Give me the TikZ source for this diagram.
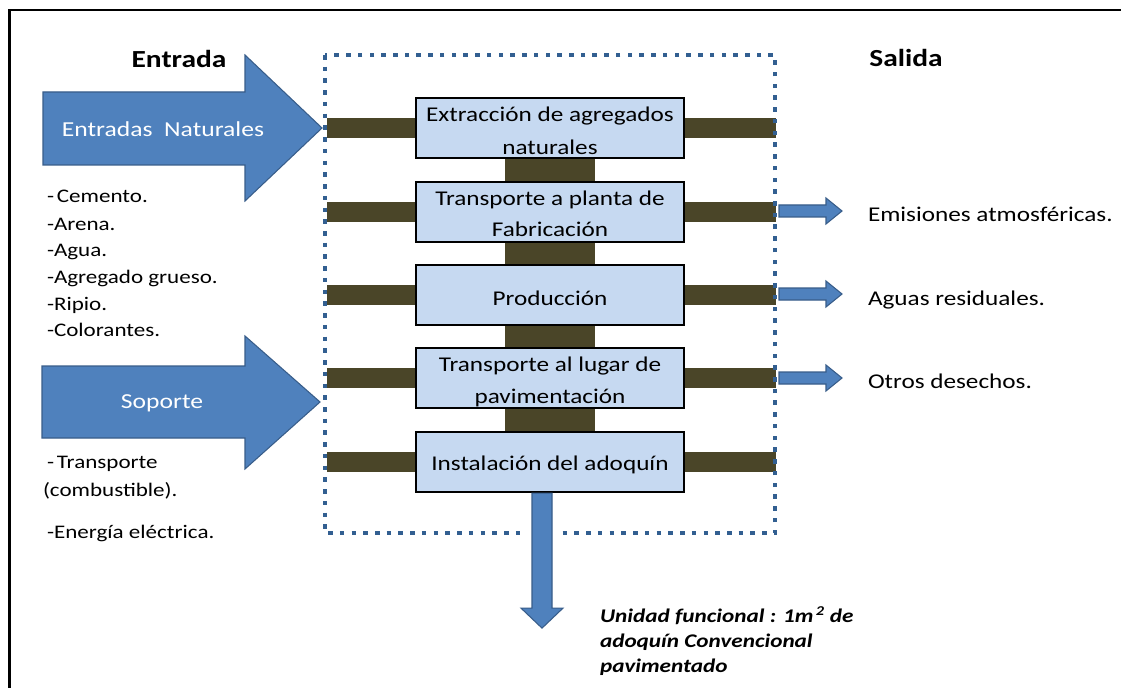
\documentclass[tikz,border=0pt]{standalone}
\usepackage{fontspec}
\setmainfont{Carlito}[FakeStretch=1.2]
\usetikzlibrary{calc}

\definecolor{arrowblue}{HTML}{4F81BD}
\definecolor{arrowedge}{HTML}{385D8A}
\definecolor{stagefill}{HTML}{C6D9F1}
\definecolor{barolive}{HTML}{4A4528}
\definecolor{dotblue}{HTML}{325F91}

\pgfdeclarelayer{paper}
\pgfdeclarelayer{bars}
\pgfsetlayers{paper,bars,main}

\begin{document}
\begin{tikzpicture}[x=0.75pt,y=-0.75pt,
  every node/.style={inner sep=0pt, outer sep=0pt},
  stage/.style={draw=black, line width=1.5pt, fill=stagefill,
                minimum width=201pt, minimum height=45.5pt},
  bar/.style={fill=barolive},
  blockarrow/.style={fill=arrowblue, draw=arrowedge, line width=0.8pt, line join=miter},
  boundary/.style={draw=dotblue, line width=3.4pt, dash pattern=on 3.4pt off 5.4pt},
  headfont/.style={font=\fontsize{18.4}{22}\selectfont\bfseries},
  stagefont/.style={font=\fontsize{15.75}{19}\selectfont},
  arrowfont/.style={font=\fontsize{16}{19}\selectfont, text=white},
  listfont/.style={font=\fontsize{14.4}{18}\selectfont},
  unitfont/.style={font=\fontsize{14.5}{18}\selectfont\bfseries\itshape}
]
\useasboundingbox (0,0) rectangle (1121,688);
\begin{pgfonlayer}{paper}
  \fill[white] (0,0) rectangle (1121,688);
\end{pgfonlayer}

% outer frame (left and top edges)
\draw[line width=2pt] (9.5,688) -- (9.5,10) -- (1121,10);

% headings
\node[headfont, anchor=base] (hin) at (179,68) {Entrada};
\node[headfont, anchor=base] (hout) at (906,67) {Salida};

% input block arrows
\fill[blockarrow] (43,92) -- (245,92) -- (245,55) -- (322,128) -- (245,201)
  -- (245,165) -- (43,165) -- cycle;
\node[arrowfont, anchor=base] (nat) at (163,137) {Entradas\ \ Naturales};

\fill[blockarrow] (42,366) -- (245,366) -- (245,336) -- (320,402) -- (245,469)
  -- (245,438) -- (42,438) -- cycle;
\node[arrowfont, anchor=base] (sop) at (162,408) {Soporte};

% input lists
\node[listfont, anchor=base west] (l1) at (47,203) {-\hspace{0.15em}Cemento.};
\node[listfont, anchor=base west] (l2) at (47,230) {-Arena.};
\node[listfont, anchor=base west] (l3) at (47,256.5) {-Agua.};
\node[listfont, anchor=base west] (l4) at (47,283) {-Agregado grueso.};
\node[listfont, anchor=base west] (l5) at (47,310) {-Ripio.};
\node[listfont, anchor=base west] (l6) at (47,336.5) {-Colorantes.};
\node[listfont, anchor=base west] (s1) at (47,468) {-\hspace{0.15em}Transporte};
\node[listfont, anchor=base west] (s2) at (43,496.5) {(combustible).};
\node[listfont, anchor=base west] (s3) at (47,538) {-Energía eléctrica.};

% process stages
\node[stage] (b1) at (550,128) {};
\node[stage] (b2) at (550,212) {};
\node[stage] (b3) at (550,295) {};
\node[stage] (b4) at (550,378) {};
\node[stage] (b5) at (550,462) {};

% flow bars behind the stages
\begin{pgfonlayer}{bars}
  \foreach \i in {1,...,5}
    \fill[bar] ($(b\i.center)+(-223,-10)$) rectangle ($(b\i.center)+(226,10)$);
  \foreach \i/\j in {1/2,2/3,3/4,4/5}
    \fill[bar] ($(b\i.south)+(-45,0)$) rectangle ($(b\j.north)+(45,0)$);
\end{pgfonlayer}

\node[stagefont, anchor=base] (t1a) at ($(b1.center)+(0,-6)$) {Extracción de agregados};
\node[stagefont, anchor=base] (t1b) at ($(b1.center)+(0,26.5)$) {naturales};
\node[stagefont, anchor=base] (t2a) at ($(b2.center)+(0,-6.5)$) {Transporte a planta de};
\node[stagefont, anchor=base] (t2b) at ($(b2.center)+(0,25)$) {Fabricación};
\node[stagefont, anchor=base] (t3) at ($(b3.center)+(0,10)$) {Producción};
\node[stagefont, anchor=base] (t4a) at ($(b4.center)+(0,-6.3)$) {Transporte al lugar de};
\node[stagefont, anchor=base] (t4b) at ($(b4.center)+(0,25.3)$) {pavimentación};
\node[stagefont, anchor=base] (t5) at ($(b5.center)+(0,8)$) {Instalación del adoquín};

% system boundary
\draw[boundary] (325,55) rectangle (775,533);

% output arrows and labels
\coordinate (o2) at (779,211);
\coordinate (o3) at (779,294);
\coordinate (o4) at (779,378);
\foreach \o in {o2,o3,o4}
  \fill[blockarrow] (\o) ++(0,-6) -- ++(47,0) -- ++(0,-7) -- ++(16,13)
    -- ++(-16,13) -- ++(0,-7) -- ++(-47,0) -- cycle;
\node[stagefont, anchor=base west] (e1) at (868,221) {Emisiones atmosféricas.};
\node[stagefont, anchor=base west] (e2) at (868,305) {Aguas residuales.};
\node[stagefont, anchor=base west] (e3) at (868,388) {Otros desechos.};

% functional unit arrow
\fill[white] (526,527) rectangle (558,539);
\coordinate (d0) at ($(b5.south)+(-8,0.8)$);
\fill[blockarrow] (d0) ++(-10,0) -- ++(20,0) -- ++(0,115) -- ++(11,0)
  -- ++(-21,20) -- ++(-21,-20) -- ++(11,0) -- cycle;
\node[unitfont, anchor=base west] (u1) at (600,622) {Unidad funcional : 1m\textsuperscript{\,2}\ de};
\node[unitfont, anchor=base west] (u2) at (600,647) {adoquín Convencional};
\node[unitfont, anchor=base west] (u3) at (600,672) {pavimentado};
\end{tikzpicture}
\end{document}
